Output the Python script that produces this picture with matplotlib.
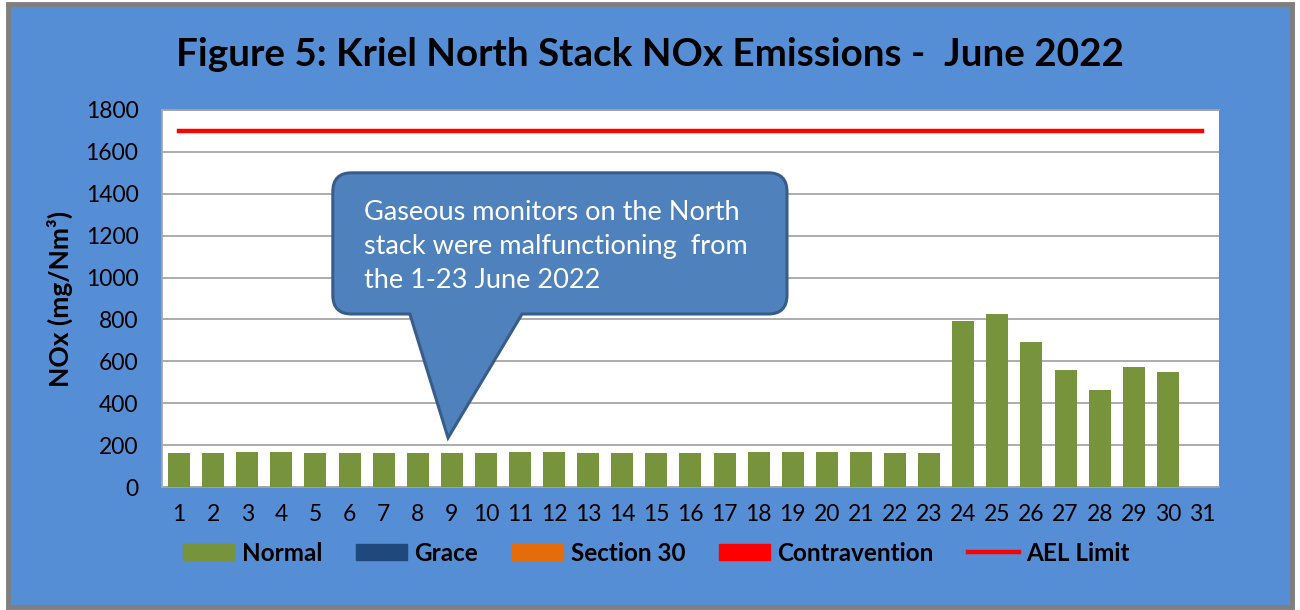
import matplotlib as mpl
mpl.use('Agg')
import matplotlib.pyplot as plt
from matplotlib.patches import Patch, PathPatch, Rectangle
from matplotlib.lines import Line2D
from matplotlib.path import Path

plt.rcParams['font.family'] = ['Lato', 'DejaVu Sans']

days = list(range(1, 32))
nox_normal = [162, 162, 165, 165, 162, 162, 162, 162, 162, 162,
              167, 167, 164, 164, 162, 162, 162, 165, 165, 165,
              165, 162, 162, 794, 826, 692, 559, 463, 573, 549, 0]
ael_limit = [1700] * 31
yticks = list(range(0, 1801, 200))

note = "Gaseous monitors on the North\nstack were malfunctioning  from\nthe 1-23 June 2022"

BLUE_BG = '#558ED5'
GREEN = '#77933C'
GRACE = '#1F497D'
SEC30 = '#E46C0A'
CONTRA = '#FF0000'

fig = plt.figure(figsize=(13, 6.1), dpi=100)
fig.patch.set_facecolor('white')
# chart area frame
fig.patches.append(Rectangle((0.006, 0.005), 0.988, 0.988, transform=fig.transFigure,
                             facecolor=BLUE_BG, edgecolor='#7F7F7F', linewidth=3.5, zorder=-10))

ax = fig.add_axes([0.1246, 0.2016, 0.8131, 0.6181])
ax.set_facecolor('white')
ax.bar(days, nox_normal, width=0.645, color=GREEN, zorder=3)
ax.plot(days, ael_limit, color='red', linewidth=3.2, zorder=4)

ax.set_xlim(0.5, 31.5)
ax.set_ylim(0, 1800)
ax.set_yticks(yticks)
ax.set_xticks(days)
ax.grid(axis='y', color='#A6A6A6', linewidth=1.3, zorder=1)
ax.tick_params(length=0, labelsize=16.5)
ax.tick_params(axis='x', pad=12)
ax.tick_params(axis='y', pad=17)
for s in ['left', 'bottom', 'top']:
    ax.spines[s].set_color('#A6A6A6')
    ax.spines[s].set_linewidth(1.3)
ax.spines['right'].set_visible(False)
ax.set_ylabel("NOx (mg/Nm³)", fontsize=19, fontweight='bold', labelpad=9)

fig.text(0.5, 0.91, "Figure 5: Kriel North Stack NOx Emissions -  June 2022",
         ha='center', va='center', fontsize=27.8, fontweight='bold')

# callout box
x0, x1, y0, y1 = 5.51, 18.83, 826, 1500
rx, ry = 0.55, 90
bl, br, tip = 7.77, 11.06, (8.89, 235)
verts = [(x0 + rx, y0), (bl, y0), tip, (br, y0), (x1 - rx, y0),
         (x1, y0), (x1, y0 + ry), (x1, y1 - ry), (x1, y1), (x1 - rx, y1),
         (x0 + rx, y1), (x0, y1), (x0, y1 - ry), (x0, y0 + ry), (x0, y0), (x0 + rx, y0),
         (x0 + rx, y0)]
codes = [Path.MOVETO, Path.LINETO, Path.LINETO, Path.LINETO, Path.LINETO,
         Path.CURVE3, Path.CURVE3, Path.LINETO, Path.CURVE3, Path.CURVE3,
         Path.LINETO, Path.CURVE3, Path.CURVE3, Path.LINETO, Path.CURVE3, Path.CURVE3,
         Path.CLOSEPOLY]
ax.add_patch(PathPatch(Path(verts, codes), facecolor='#4F81BD', edgecolor='#385D8A',
                       linewidth=2.2, zorder=6, clip_on=False))
ax.text(6.42, 1150, note, color='white', fontsize=19.5, ha='left', va='center',
        linespacing=1.45, zorder=7)

handles = [Patch(color=GREEN, label='Normal'),
           Patch(color=GRACE, label='Grace'),
           Patch(color=SEC30, label='Section 30'),
           Patch(color=CONTRA, label='Contravention'),
           Line2D([], [], color='red', linewidth=3.2, label='AEL Limit')]
fig.legend(handles=handles, loc='center', bbox_to_anchor=(0.505, 0.093), ncol=5,
           frameon=False, prop={'size': 17.5, 'weight': 'bold'},
           handlelength=2.1, handleheight=0.65, handletextpad=0.3, columnspacing=1.4)

plt.savefig('out.png', dpi=100)
